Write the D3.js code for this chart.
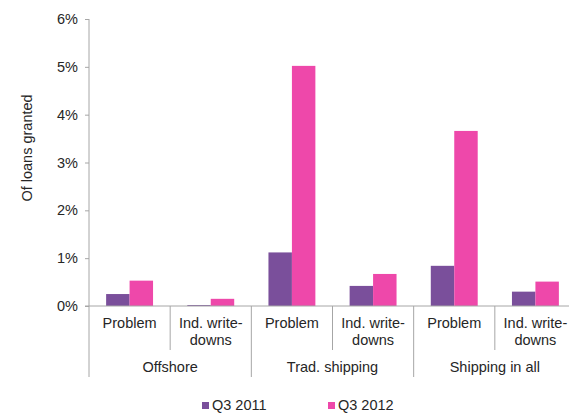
<!DOCTYPE html>
<html>
<head>
<meta charset="utf-8">
<script src="https://cdn.jsdelivr.net/npm/d3@7"></script>
<style>
  html, body { margin: 0; padding: 0; background: #fff; }
  svg { display: block; font-family: "Liberation Sans", Arial, sans-serif; }
</style>
</head>
<body>
<svg id="chart" width="569" height="414"></svg>
<script>
// Loan quality by segment, share of loans granted (%)
const groups = ["Offshore", "Trad. shipping", "Shipping in all"];
const subLabels = [["Problem"], ["Ind. write-", "downs"]];
const seriesNames = ["Q3 2011", "Q3 2012"];
const q3_2011 = [0.25, 0.02, 1.12, 0.42, 0.84, 0.30];
const q3_2012 = [0.53, 0.15, 5.02, 0.67, 3.66, 0.51];
const yTicks = [0, 1, 2, 3, 4, 5, 6];
const colors = ["#7a4f9b", "#ee48aa"];

const svg = d3.select("#chart");
const axisColor = "#a6a6a6";
const textColor = "#262626";
const fontSize = "14.5px";

const plotLeft = 89, plotRight = 576, plotTop = 19, plotBottom = 306;

// One slot per (group, sub-category)
const slots = [];
groups.forEach((g, gi) => subLabels.forEach((s, si) => slots.push({ g, gi, si, key: gi + "-" + si })));

const x0 = d3.scaleBand().domain(slots.map(d => d.key)).range([plotLeft, plotRight]).paddingInner(0).paddingOuter(0);
const x1 = d3.scaleBand().domain(seriesNames).range([0, x0.bandwidth()]).paddingInner(0).paddingOuter(0.73);
const y = d3.scaleLinear().domain([0, 6]).range([plotBottom, plotTop]);

const values = [q3_2011, q3_2012];

// Bars
const slotG = svg.append("g").selectAll("g").data(slots).join("g")
  .attr("transform", d => `translate(${x0(d.key)},0)`);
slotG.selectAll("rect")
  .data((d, i) => seriesNames.map((s, k) => ({ s, k, v: values[k][i] })))
  .join("rect")
  .attr("x", d => x1(d.s))
  .attr("width", x1.bandwidth())
  .attr("y", d => y(d.v))
  .attr("height", d => y(0) - y(d.v))
  .attr("fill", d => colors[d.k]);

// Y axis
const yAxis = d3.axisLeft(y).tickValues(yTicks).tickSize(4).tickPadding(7).tickFormat(d => d + "%");
const ya = svg.append("g").attr("transform", `translate(${plotLeft},0)`).call(yAxis);
ya.select(".domain").remove();
ya.selectAll(".tick line").attr("stroke", axisColor);
ya.selectAll(".tick text").attr("fill", textColor).style("font-size", fontSize)
  .style("font-family", "'Liberation Sans', Arial, sans-serif");
svg.append("line").attr("x1", plotLeft).attr("x2", plotLeft).attr("y1", plotTop).attr("y2", 377)
  .attr("stroke", axisColor);

// Baseline
svg.append("line").attr("x1", plotLeft - 4).attr("x2", 569).attr("y1", y(0)).attr("y2", y(0))
  .attr("stroke", axisColor);

// Category separators: short between sub-categories, long between groups
slots.forEach(d => {
  const xe = x0(d.key) + x0.bandwidth();
  const isGroupEnd = d.si === subLabels.length - 1;
  svg.append("line").attr("x1", xe).attr("x2", xe)
    .attr("y1", y(0)).attr("y2", isGroupEnd ? 377 : 350)
    .attr("stroke", axisColor);
});

// Sub-category labels
slots.forEach(d => {
  const cx = x0(d.key) + x0.bandwidth() / 2;
  const t = svg.append("text").attr("x", cx).attr("y", 328)
    .attr("text-anchor", "middle").attr("fill", textColor).style("font-size", fontSize);
  subLabels[d.si].forEach((line, li) => {
    t.append("tspan").attr("x", cx).attr("y", 328 + li * 17).text(line);
  });
});

// Group labels
groups.forEach((g, gi) => {
  const a = x0(gi + "-0"), b = x0(gi + "-" + (subLabels.length - 1)) + x0.bandwidth();
  svg.append("text").attr("x", (a + b) / 2).attr("y", 372)
    .attr("text-anchor", "middle").attr("fill", textColor).style("font-size", fontSize).text(g);
});

// Axis title
svg.append("text").attr("transform", "translate(32,148) rotate(-90)")
  .attr("text-anchor", "middle").attr("fill", textColor).style("font-size", fontSize)
  .text("Of loans granted");

// Legend
const legendX = [202, 328];
seriesNames.forEach((s, k) => {
  svg.append("rect").attr("x", legendX[k]).attr("y", 402).attr("width", 7).attr("height", 7)
    .attr("fill", colors[k]);
  svg.append("text").attr("x", legendX[k] + 10).attr("y", 410).attr("fill", textColor)
    .style("font-size", fontSize).text(s);
});
</script>
</body>
</html>
